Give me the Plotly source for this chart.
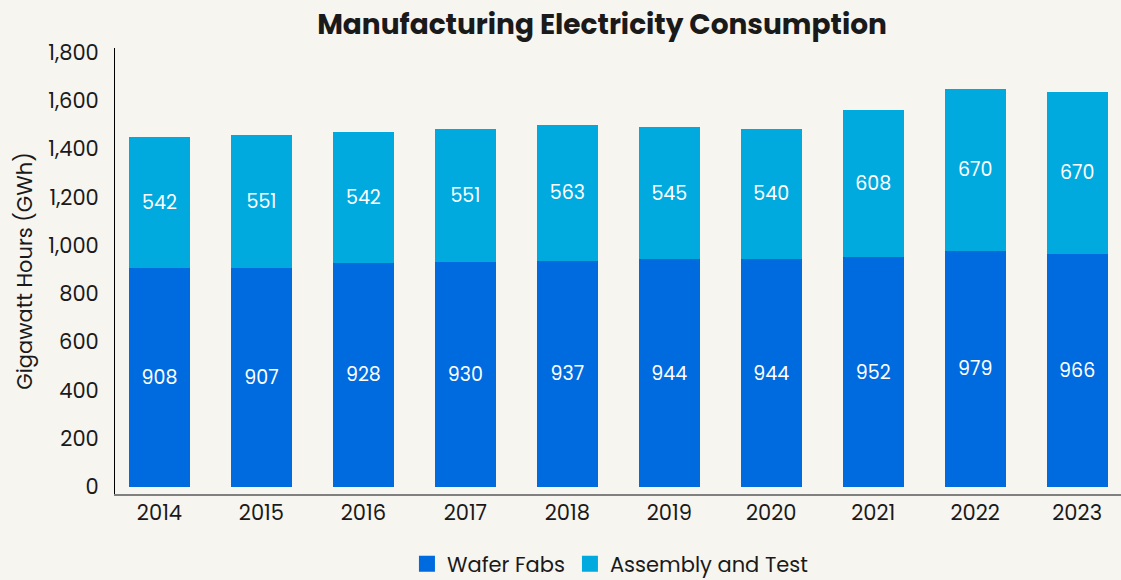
import plotly.graph_objects as go

years = ["2014", "2015", "2016", "2017", "2018", "2019", "2020", "2021", "2022", "2023"]
wafer_fabs = [908, 907, 928, 930, 937, 944, 944, 952, 979, 966]
assembly_test = [542, 551, 542, 551, 563, 545, 540, 608, 670, 670]

bg = "#F7F5F0"
font_family = "Poppins, Inter, sans-serif"
colors = {"Wafer Fabs": "#006ADF", "Assembly and Test": "#00AADF"}

fig = go.Figure()
for name, vals in [("Wafer Fabs", wafer_fabs), ("Assembly and Test", assembly_test)]:
    fig.add_trace(go.Bar(x=years, y=vals, name=name, showlegend=False,
                         marker_color=colors[name], marker_line_width=0,
                         text=vals, textposition="inside", insidetextanchor="middle",
                         textfont=dict(color="white", size=19, family=font_family)))
# legend entries with bigger square swatches
for name in colors:
    fig.add_trace(go.Scatter(x=[None], y=[None], mode="markers", name=name,
                             marker=dict(symbol="square", size=16, color=colors[name])))

fig.update_layout(
    barmode="stack",
    bargap=0.4,
    width=1121, height=580,
    margin=dict(l=115, r=0, t=48, b=86, autoexpand=False),
    paper_bgcolor=bg, plot_bgcolor=bg,
    font=dict(family=font_family, size=21, color="#1a1a1a"),
    title=dict(text="<b>Manufacturing Electricity Consumption</b>",
               x=602 / 1121, xanchor="center", xref="container",
               y=1 - 24 / 580, yanchor="middle", yref="container",
               font=dict(size=28, color="#1a1a1a")),
    legend=dict(orientation="h", x=0.492, xanchor="center",
                y=1 - 564 / 580, yanchor="middle", yref="container",
                font=dict(size=21), traceorder="normal", itemsizing="trace"),
    uniformtext=dict(minsize=10, mode="show"),
)
fig.update_xaxes(type="category", range=[-0.436, 9.43], showline=True, linecolor="#808080",
                 linewidth=2, showgrid=False, ticks="", ticklabelstandoff=-1,
                 tickfont=dict(size=21), automargin=False)
fig.update_yaxes(range=[-29, 1818], tickvals=list(range(0, 1801, 200)), tickformat=",",
                 showline=True, linecolor="black", linewidth=1, showgrid=False,
                 zeroline=False, ticks="", ticklabelstandoff=11, automargin=False,
                 tickfont=dict(size=21),
                 title=dict(text="Gigawatt Hours (GWh)", standoff=9, font=dict(size=21)))

fig.write_html("out.html", config={"displayModeBar": False},
               post_script="document.body.style.margin='0';")
